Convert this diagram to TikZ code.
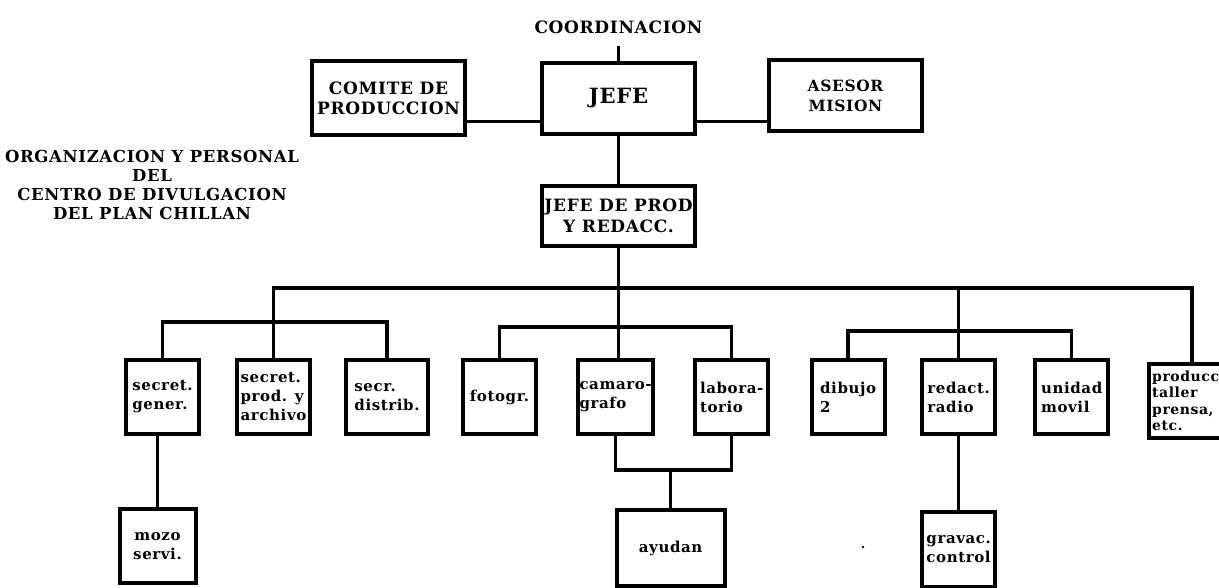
\documentclass[tikz,border=0pt]{standalone}
\usepackage{fontspec}
\setmainfont{DejaVu Serif}[LetterSpace=4]
\usetikzlibrary{positioning, calc}

\begin{document}
\begin{tikzpicture}[
  x=1pt, y=-1pt,
  link/.style={line width=3.5pt},
  chief/.style={rectangle, draw, line width=4pt, minimum width=153pt, minimum height=71pt, align=center, inner sep=2pt, font=\bfseries\fontsize{17}{20.5}\selectfont},
  unit/.style={rectangle, draw, line width=4pt, minimum width=73pt, minimum height=74pt, align=left, inner sep=1.5pt, font=\bfseries\fontsize{15}{19}\selectfont},
  heading/.style={align=center, font=\bfseries\fontsize{17}{19}\selectfont},
]
\useasboundingbox (0,0) rectangle (1219,588);

  % cabeza
  \node[chief, font=\bfseries\fontsize{21}{24}\selectfont] (jefe) at (618.5,98.5) {JEFE};
  \node[chief, left=73pt of jefe, minimum height=74pt] (comite) {COMITE DE\\PRODUCCION};
  \node[chief, right=70pt of jefe, yshift=3pt, font=\bfseries\fontsize{15.5}{20}\selectfont] (asesor) {ASESOR\\MISION};
  \node[heading, above=24pt of jefe] (coord) {COORDINACION};
  \node[chief, below=48pt of jefe, minimum height=60pt] (jprod) {JEFE DE PROD\\Y REDACC.};
  \node[heading, font=\bfseries\fontsize{16.5}{19}\selectfont] (title) at (152,185) {ORGANIZACION Y PERSONAL\\DEL\\CENTRO DE DIVULGACION\\DEL PLAN CHILLAN};

  % secciones
  \node[unit] (secg) at (162.5,397) {secret.\\gener.};
  \node[unit, right=34pt of secg] (sprod) {secret.\\prod. y\\archivo};
  \node[unit, right=32pt of sprod, minimum width=82pt] (secd) {secr.\\distrib.};
  \node[unit, right=31pt of secd] (foto) {fotogr.};
  \node[unit, right=38pt of foto] (camaro) {camaro-\\grafo};
  \node[unit, right=38pt of camaro] (labo) {labora-\\torio};
  \node[unit, right=39.5pt of labo] (dibujo) {dibujo\\2};
  \node[unit, right=33.5pt of dibujo] (radio) {redact.\\radio};
  \node[unit, right=36pt of radio] (unidad) {unidad\\movil};
  \node[unit, right=37pt of unidad, yshift=-4pt, minimum width=86pt, text width=80pt, font=\bfseries\fontsize{14}{16.5}\selectfont] (taller) {producc\\taller\\prensa,\\etc.};

  % ayudantes
  \node[unit, below=71pt of secg, xshift=-5pt, minimum width=76pt, align=center] (mozo) {mozo\\servi.};
  \coordinate (mid) at ($(camaro.south)!.5!(labo.south)$);
  \coordinate[below=34pt of mid] (join);
  \node[unit, below=38pt of join, xshift=-3pt, minimum width=108pt, minimum height=76pt, align=center] (ayudan) {ayudan};
  \node[unit, below=74pt of radio, minimum height=75pt] (grav) {gravac.\\control};

  \draw[link] ([yshift=-9pt]coord.south) -- (jefe.north);
  \coordinate (jl) at ([yshift=-23pt]jefe.west);
  \coordinate (jr) at ([yshift=-23pt]jefe.east);
  \draw[link] (jl) -- (jl -| comite.east);
  \draw[link] (jr) -- (jr -| asesor.west);
  \draw[link] (jefe) -- (jprod);

  \coordinate[below=40pt of jprod] (bus);
  \draw[link] (sprod.north) |- (bus) -| (taller.north);
  \draw[link] (jprod.south) -- (jprod.south |- camaro.north);
  \draw[link] (radio.north) -- (radio.north |- bus);

  \coordinate[above=36pt of secg] (subA);
  \draw[link] (secg.north) |- (subA -| secd.north) -- (secd.north);
  \coordinate[above=31pt of foto] (subB);
  \draw[link] (foto.north) |- (subB -| labo.north) -- (labo.north);
  \coordinate[above=27pt of dibujo] (subC);
  \draw[link] (dibujo.north) |- (subC -| unidad.north) -- (unidad.north);

  \draw[link] (mozo.north |- secg.south) -- (mozo.north);
  \draw[link] (camaro.south) |- (join) -| (labo.south);
  \draw[link] (ayudan.north |- join) -- (ayudan.north);
  \draw[link] (radio) -- (grav);
  \fill (863,547) circle (1.3pt);

\end{tikzpicture}
\end{document}
